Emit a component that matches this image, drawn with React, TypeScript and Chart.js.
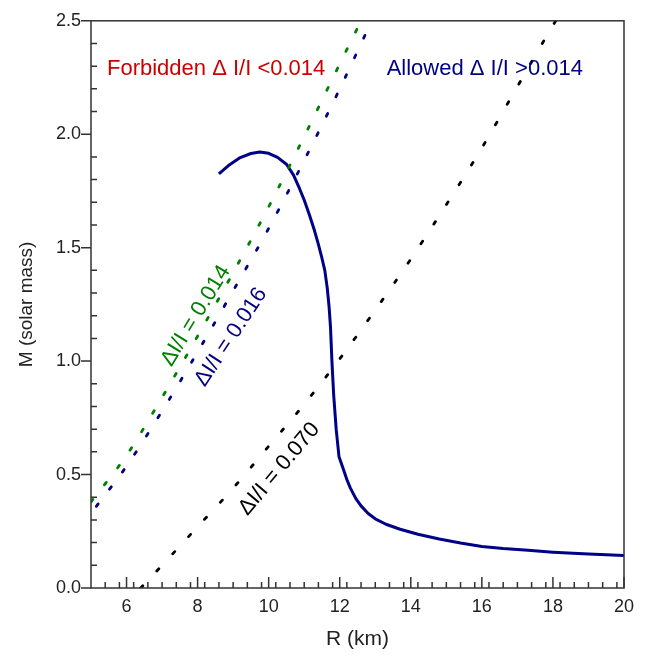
import React, { useEffect, useRef } from "react";
import { Chart, registerables } from "chart.js";

Chart.register(...registerables);

// Mass-radius curve (R in km, M in solar masses)
const curveR = [8.6, 8.9, 9.2, 9.5, 9.75, 10.0, 10.25, 10.5, 10.7, 10.87, 11.0, 11.15, 11.28, 11.39, 11.49, 11.58, 11.65, 11.7, 11.74, 11.78, 11.83, 11.9, 11.98, 12.1, 12.2, 12.3, 12.45, 12.6, 12.8, 13.0, 13.3, 13.7, 14.2, 14.8, 15.4, 16.0, 16.6, 17.3, 18.0, 19.0, 20.0];
const curveM = [1.825, 1.866, 1.897, 1.915, 1.922, 1.916, 1.898, 1.868, 1.82, 1.76, 1.71, 1.643, 1.58, 1.52, 1.46, 1.4, 1.32, 1.24, 1.15, 1.0, 0.85, 0.7, 0.578, 0.525, 0.478, 0.44, 0.395, 0.362, 0.328, 0.305, 0.281, 0.259, 0.237, 0.216, 0.198, 0.183, 0.174, 0.166, 0.158, 0.15, 0.143];

// Constant ΔI/I lines
const line014R = [5.0, 6.0, 7.0, 8.0, 9.0, 10.0, 11.0, 12.0, 12.6];
const line014M = [0.38, 0.585, 0.84, 1.11, 1.39, 1.68, 1.99, 2.31, 2.5];
const line016R = [5.15, 6.0, 7.0, 8.0, 9.0, 10.0, 11.0, 12.0, 12.9];
const line016M = [0.36, 0.537, 0.78, 1.04, 1.31, 1.585, 1.885, 2.2, 2.5];
const line070R = [6.4, 7.0, 8.0, 9.0, 10.0, 11.0, 12.0, 13.0, 14.0, 15.0, 16.0, 17.0, 18.0, 18.08];
const line070M = [0.0, 0.1, 0.27, 0.44, 0.625, 0.81, 1.01, 1.225, 1.45, 1.69, 1.94, 2.21, 2.48, 2.5];

// Axis ticks
const xTickValues = [6, 8, 10, 12, 14, 16, 18, 20];
const yTickValues = [0, 0.5, 1.0, 1.5, 2.0, 2.5];
const xMinorStep = 0.4;
const yMinorStep = 0.1;

// Text annotations (anchored in data coordinates)
const noteTexts = ["Forbidden \u0394 I/I <0.014", "Allowed \u0394 I/I >0.014", "\u0394I/I = 0.014", "\u0394I/I = 0.016", "\u0394I/I = 0.070"];
const noteR = [5.45, 13.32, 7.95, 8.94, 10.3];
const noteM = [2.29, 2.29, 1.2, 1.106, 0.525];
const noteColors = ["#cc0000", "#000080", "#008000", "#000080", "#000000"];
const noteAngles = [0, 0, -58.5, -56.5, -50];
const noteAlign = ["left", "left", "center", "center", "center"];

const FONT = '"Liberation Sans", Arial, Helvetica, sans-serif';

const pts = (xs: number[], ys: number[]) => xs.map((x, i) => ({ x, y: ys[i] }));

const decorPlugin = {
  id: "decor",
  afterDatasetsDraw(chart: any) {
    const { ctx, chartArea } = chart;
    const xs = chart.scales.x;
    const ys = chart.scales.y;
    const { left, right, top, bottom } = chartArea;
    ctx.save();
    ctx.strokeStyle = "#333333";
    ctx.lineWidth = 1.5;
    ctx.strokeRect(left, top, right - left, bottom - top);
    ctx.beginPath();
    // x ticks (inside)
    for (const v of xTickValues) {
      const p = xs.getPixelForValue(v);
      ctx.moveTo(p, bottom);
      ctx.lineTo(p, bottom - 11);
    }
    for (let v = xs.min + xMinorStep; v < xs.max - 1e-6; v += xMinorStep) {
      if (xTickValues.some((t) => Math.abs(t - v) < 1e-6)) continue;
      const p = xs.getPixelForValue(v);
      ctx.moveTo(p, bottom);
      ctx.lineTo(p, bottom - 6);
    }
    // y ticks
    for (const v of yTickValues) {
      const p = ys.getPixelForValue(v);
      ctx.moveTo(left - 10, p);
      ctx.lineTo(left, p);
    }
    for (let v = ys.min + yMinorStep; v < ys.max - 1e-6; v += yMinorStep) {
      if (yTickValues.some((t) => Math.abs(t - v) < 1e-6)) continue;
      const p = ys.getPixelForValue(v);
      ctx.moveTo(left, p);
      ctx.lineTo(left + 6, p);
    }
    ctx.stroke();

    ctx.font = "22px " + FONT;
    ctx.textBaseline = "middle";
    noteTexts.forEach((t, i) => {
      const px = xs.getPixelForValue(noteR[i]);
      const py = ys.getPixelForValue(noteM[i]);
      ctx.save();
      ctx.translate(px, py);
      ctx.rotate((noteAngles[i] * Math.PI) / 180);
      ctx.fillStyle = noteColors[i];
      ctx.textAlign = noteAlign[i] as CanvasTextAlign;
      ctx.fillText(t, 0, 0);
      ctx.restore();
    });
    ctx.restore();
  },
};

export default function App() {
  const ref = useRef<HTMLCanvasElement | null>(null);
  useEffect(() => {
    if (!ref.current) return;
    const dotted = (data: any, color: string, dash: number[]) => ({
      data,
      borderColor: color,
      borderWidth: 2.8,
      borderDash: dash,
      borderCapStyle: "round",
      pointRadius: 0,
      cubicInterpolationMode: "monotone",
      fill: false,
    });
    const chart = new Chart(ref.current, {
      type: "line",
      data: {
        datasets: [
          dotted(pts(line014R, line014M), "#008000", [3, 18.6]) as any,
          dotted(pts(line016R, line016M), "#000080", [3, 18.6]) as any,
          dotted(pts(line070R, line070M), "#000000", [3, 20.4]) as any,
          {
            data: pts(curveR, curveM),
            borderColor: "#000088",
            borderWidth: 3,
            borderJoinStyle: "round",
            pointRadius: 0,
            tension: 0,
            fill: false,
          } as any,
        ],
      },
      options: {
        animation: false,
        responsive: true,
        maintainAspectRatio: false,
        layout: { padding: { left: 0, top: 14, right: 32, bottom: 0 } },
        plugins: { legend: { display: false }, tooltip: { enabled: false } },
        scales: {
          x: {
            type: "linear",
            min: 5,
            max: 20,
            grid: { display: false, drawTicks: false },
            border: { display: false },
            afterBuildTicks: (s: any) => {
              s.ticks = xTickValues.map((v) => ({ value: v }));
            },
            afterFit: (s: any) => {
              s.height = 70;
            },
            ticks: {
              padding: 8,
              color: "#222",
              font: { family: FONT, size: 18 },
              callback: (v: any) => String(v),
              maxRotation: 0,
            },
            title: {
              display: true,
              text: "R (km)",
              color: "#222",
              font: { family: FONT, size: 21 },
              padding: { top: 0, bottom: 6 },
            },
          },
          y: {
            type: "linear",
            min: 0,
            max: 2.5,
            grid: { display: false, drawTicks: false },
            border: { display: false },
            afterBuildTicks: (s: any) => {
              s.ticks = yTickValues.map((v) => ({ value: v }));
            },
            afterFit: (s: any) => {
              s.width = 91;
            },
            ticks: {
              padding: 10,
              color: "#222",
              font: { family: FONT, size: 18 },
              callback: (v: any) => Number(v).toFixed(1),
            },
            title: {
              display: true,
              text: "M (solar mass)",
              color: "#222",
              font: { family: FONT, size: 19 },
              padding: { top: 15, bottom: 0 },
            },
          },
        },
      },
      plugins: [decorPlugin],
    });
    return () => chart.destroy();
  }, []);
  return (
    <div style={{ position: "absolute", left: 0, top: 0, width: 656, height: 658 }}>
      <canvas ref={ref} />
    </div>
  );
}
